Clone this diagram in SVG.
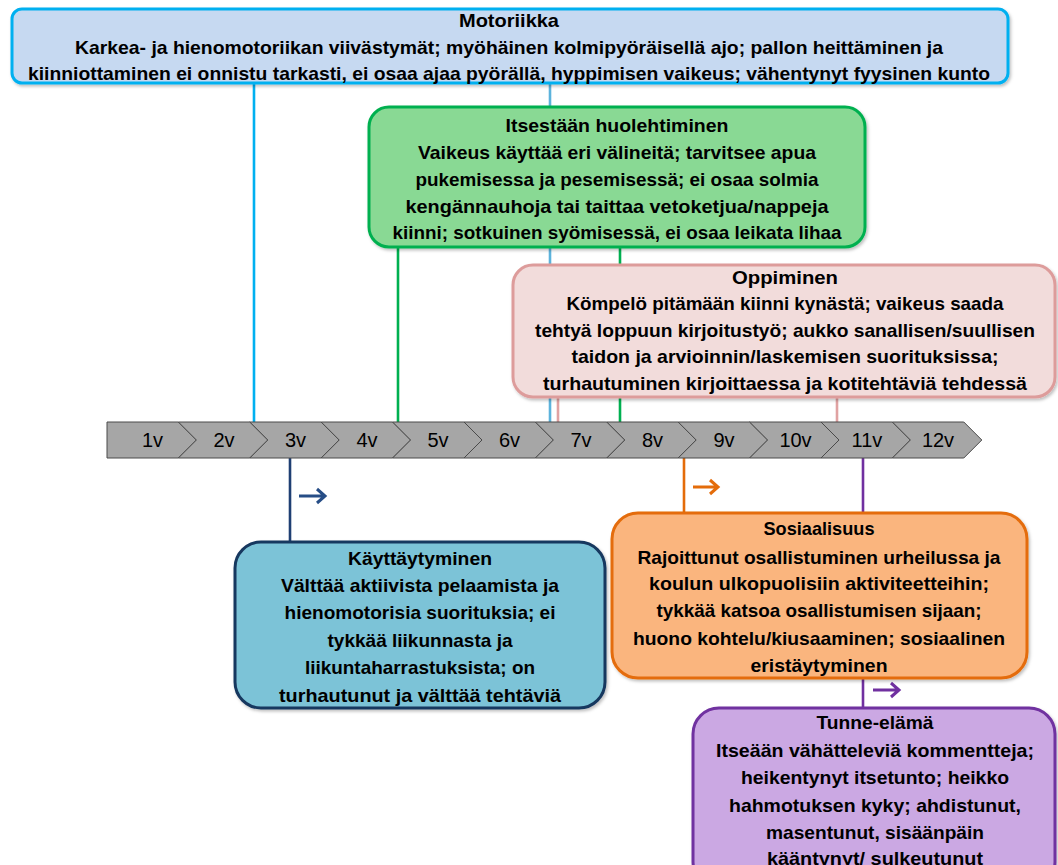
<svg xmlns="http://www.w3.org/2000/svg" width="1058" height="865" viewBox="0 0 1058 865">
<defs>
<filter id="sh" x="-5%" y="-5%" width="110%" height="115%">
<feDropShadow dx="1.5" dy="2" stdDeviation="1.5" flood-color="#000" flood-opacity="0.25"/>
</filter>
<style>
.t{font-family:"Liberation Sans",Arial,sans-serif;font-weight:bold;font-size:19px;fill:#000;text-anchor:middle}
.y{font-family:"Liberation Sans",Arial,sans-serif;font-size:20px;fill:#000;text-anchor:middle}
.box{stroke-width:3;filter:url(#sh)}
.chev{fill:#a6a6a6;stroke:#4a4a4a;stroke-width:1}
.ln{fill:none;stroke-width:2.6}
.arr{fill:none;stroke-width:3}
</style>
</defs>
<rect width="1058" height="865" fill="#fff"/>

<g id="connectors">
<line class="ln" x1="254" y1="84" x2="254" y2="422" stroke="#00b0f0"/>
<line class="ln" x1="550" y1="84" x2="550" y2="422" stroke="#5cb3dc"/>
<line class="ln" x1="398" y1="247" x2="398" y2="422" stroke="#00b050"/>
<line class="ln" x1="620" y1="247" x2="620" y2="422" stroke="#00b050"/>
<line class="ln" x1="558" y1="397" x2="558" y2="422" stroke="#e0a2a2"/>
<line class="ln" x1="837" y1="397" x2="837" y2="422" stroke="#e0a2a2"/>
<line class="ln" x1="290" y1="458" x2="290" y2="542" stroke="#1f3f73"/>
<line class="ln" x1="684" y1="458" x2="684" y2="513" stroke="#e46c0a"/>
<line class="ln" x1="863" y1="458" x2="863" y2="708" stroke="#7030a0"/>
<path class="arr" d="M299,496 H325 M317,489 L325,496 L317,503" stroke="#264d86"/>
<path class="arr" d="M693,487 H718 M710,480 L718,487 L710,494" stroke="#e46c0a"/>
<path class="arr" d="M873,690 H899 M891,683 L899,690 L891,697" stroke="#7030a0"/>
</g>

<g id="timeline">
<polygon class="chev" points="107,422 178.4,422 196.4,440 178.4,458 107,458"/>
<polygon class="chev" points="178.4,422 249.8,422 267.8,440 249.8,458 178.4,458 196.4,440"/>
<polygon class="chev" points="249.8,422 321.2,422 339.2,440 321.2,458 249.8,458 267.8,440"/>
<polygon class="chev" points="321.2,422 392.6,422 410.6,440 392.6,458 321.2,458 339.2,440"/>
<polygon class="chev" points="392.6,422 464,422 482,440 464,458 392.6,458 410.6,440"/>
<polygon class="chev" points="464,422 535.4,422 553.4,440 535.4,458 464,458 482,440"/>
<polygon class="chev" points="535.4,422 606.8,422 624.8,440 606.8,458 535.4,458 553.4,440"/>
<polygon class="chev" points="606.8,422 678.2,422 696.2,440 678.2,458 606.8,458 624.8,440"/>
<polygon class="chev" points="678.2,422 749.6,422 767.6,440 749.6,458 678.2,458 696.2,440"/>
<polygon class="chev" points="749.6,422 821,422 839,440 821,458 749.6,458 767.6,440"/>
<polygon class="chev" points="821,422 892.4,422 910.4,440 892.4,458 821,458 839,440"/>
<polygon class="chev" points="892.4,422 963.8,422 981.8,440 963.8,458 892.4,458 910.4,440"/>
<text class="y" x="152.5" y="447">1v</text>
<text class="y" x="224" y="447">2v</text>
<text class="y" x="295.5" y="447">3v</text>
<text class="y" x="367" y="447">4v</text>
<text class="y" x="438" y="447">5v</text>
<text class="y" x="509.5" y="447">6v</text>
<text class="y" x="581" y="447">7v</text>
<text class="y" x="652.5" y="447">8v</text>
<text class="y" x="724" y="447">9v</text>
<text class="y" x="795.5" y="447">10v</text>
<text class="y" x="867" y="447">11v</text>
<text class="y" x="938" y="447">12v</text>
</g>

<g id="motoriikka">
<rect class="box" x="12" y="9" width="996" height="74" rx="10" fill="#c6d9f1" stroke="#00b0f0"/>
<text class="t" x="509" y="27" textLength="100" lengthAdjust="spacingAndGlyphs">Motoriikka</text>
<text class="t" x="509" y="54" textLength="868" lengthAdjust="spacingAndGlyphs">Karkea- ja hienomotoriikan viivästymät; myöhäinen kolmipyöräisellä ajo; pallon heittäminen ja</text>
<text class="t" x="509" y="80" textLength="962" lengthAdjust="spacingAndGlyphs">kiinniottaminen ei onnistu tarkasti, ei osaa ajaa pyörällä,  hyppimisen vaikeus; vähentynyt fyysinen kunto</text>
</g>

<g id="itsestaan">
<rect class="box" x="369" y="107" width="496" height="140" rx="20" fill="#89d994" stroke="#00b050"/>
<text class="t" x="617" y="132" textLength="223" lengthAdjust="spacingAndGlyphs">Itsestään huolehtiminen</text>
<text class="t" x="617" y="159" textLength="398" lengthAdjust="spacingAndGlyphs">Vaikeus käyttää eri välineitä; tarvitsee apua</text>
<text class="t" x="617" y="186" textLength="403" lengthAdjust="spacingAndGlyphs">pukemisessa ja  pesemisessä; ei osaa solmia</text>
<text class="t" x="617" y="213" textLength="423" lengthAdjust="spacingAndGlyphs">kengännauhoja tai taittaa vetoketjua/nappeja</text>
<text class="t" x="617" y="239" textLength="449" lengthAdjust="spacingAndGlyphs">kiinni; sotkuinen syömisessä, ei osaa leikata lihaa</text>
</g>

<g id="oppiminen">
<rect class="box" x="513" y="265" width="542" height="132" rx="20" fill="#f2dcdb" stroke="#dd9c9b"/>
<text class="t" x="785" y="284" textLength="106" lengthAdjust="spacingAndGlyphs">Oppiminen</text>
<text class="t" x="785" y="310" textLength="437" lengthAdjust="spacingAndGlyphs">Kömpelö pitämään kiinni kynästä; vaikeus saada</text>
<text class="t" x="785" y="337" textLength="500" lengthAdjust="spacingAndGlyphs">tehtyä loppuun kirjoitustyö; aukko sanallisen/suullisen</text>
<text class="t" x="785" y="363" textLength="427" lengthAdjust="spacingAndGlyphs">taidon ja  arvioinnin/laskemisen suorituksissa;</text>
<text class="t" x="785" y="390" textLength="484" lengthAdjust="spacingAndGlyphs">turhautuminen kirjoittaessa ja kotitehtäviä tehdessä</text>
</g>

<g id="kayttaytyminen">
<rect class="box" x="235" y="542" width="370" height="166" rx="26" fill="#7cc3d7" stroke="#17375e"/>
<text class="t" x="420" y="565" textLength="144" lengthAdjust="spacingAndGlyphs">Käyttäytyminen</text>
<text class="t" x="420" y="592" textLength="278" lengthAdjust="spacingAndGlyphs">Välttää aktiivista pelaamista ja</text>
<text class="t" x="420" y="619" textLength="271" lengthAdjust="spacingAndGlyphs">hienomotorisia suorituksia; ei</text>
<text class="t" x="420" y="647" textLength="185" lengthAdjust="spacingAndGlyphs">tykkää liikunnasta ja</text>
<text class="t" x="420" y="674" textLength="230" lengthAdjust="spacingAndGlyphs">liikuntaharrastuksista; on</text>
<text class="t" x="420" y="702" textLength="282" lengthAdjust="spacingAndGlyphs">turhautunut ja välttää tehtäviä</text>
</g>

<g id="sosiaalisuus">
<rect class="box" x="612" y="513" width="415" height="165" rx="26" fill="#fab57e" stroke="#e46c0a"/>
<text class="t" x="819" y="535" textLength="111" lengthAdjust="spacingAndGlyphs">Sosiaalisuus</text>
<text class="t" x="819" y="564" textLength="363" lengthAdjust="spacingAndGlyphs">Rajoittunut osallistuminen urheilussa ja</text>
<text class="t" x="819" y="590" textLength="340" lengthAdjust="spacingAndGlyphs">koulun ulkopuolisiin aktiviteetteihin;</text>
<text class="t" x="819" y="617" textLength="325" lengthAdjust="spacingAndGlyphs">tykkää katsoa osallistumisen sijaan;</text>
<text class="t" x="819" y="645" textLength="372" lengthAdjust="spacingAndGlyphs">huono kohtelu/kiusaaminen; sosiaalinen</text>
<text class="t" x="819" y="672" textLength="137" lengthAdjust="spacingAndGlyphs">eristäytyminen</text>
</g>

<g id="tunne-elama">
<rect class="box" x="693" y="708" width="362" height="180" rx="26" fill="#cba8e3" stroke="#7030a0"/>
<text class="t" x="875" y="729" textLength="117" lengthAdjust="spacingAndGlyphs">Tunne-elämä</text>
<text class="t" x="875" y="757" textLength="318" lengthAdjust="spacingAndGlyphs">Itseään vähätteleviä kommentteja;</text>
<text class="t" x="875" y="784" textLength="268" lengthAdjust="spacingAndGlyphs">heikentynyt itsetunto; heikko</text>
<text class="t" x="875" y="812" textLength="292" lengthAdjust="spacingAndGlyphs">hahmotuksen kyky; ahdistunut,</text>
<text class="t" x="875" y="839" textLength="218" lengthAdjust="spacingAndGlyphs">masentunut, sisäänpäin</text>
<text class="t" x="875" y="865" textLength="216" lengthAdjust="spacingAndGlyphs">kääntynyt/ sulkeutunut</text>
</g>
</svg>
